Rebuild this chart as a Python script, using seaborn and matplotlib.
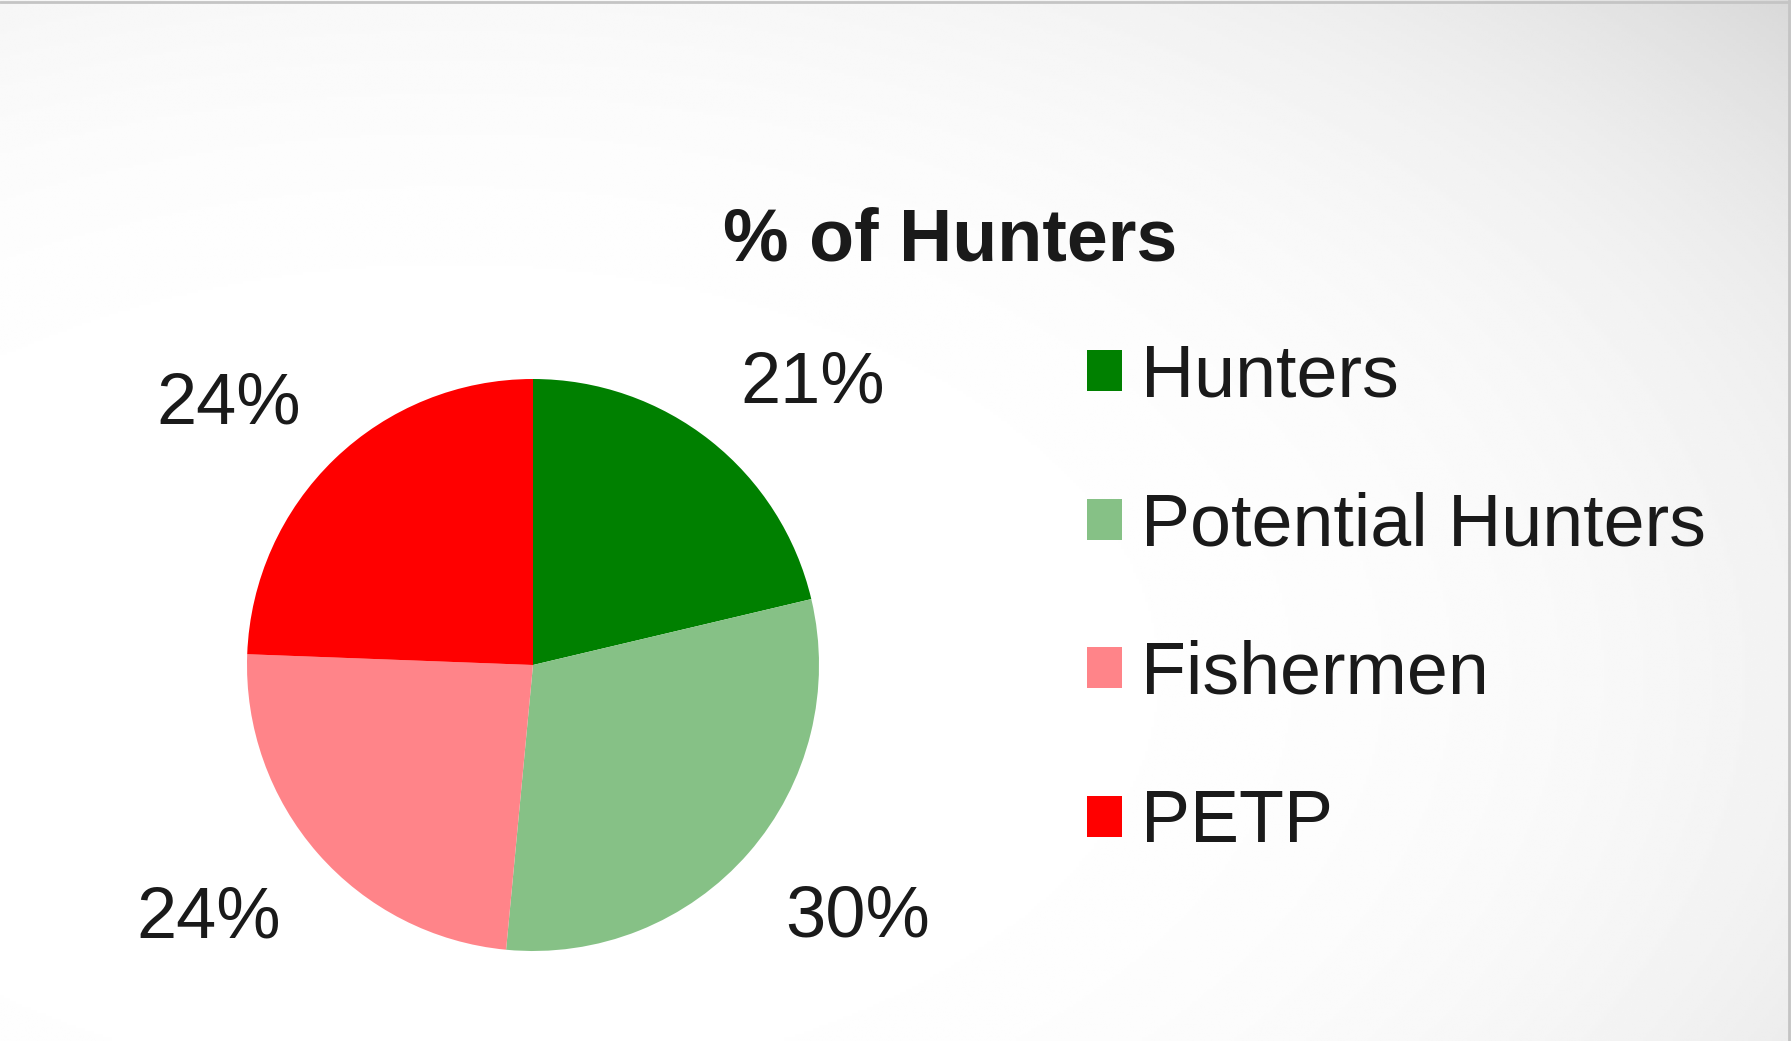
import numpy as np
import matplotlib
matplotlib.use("Agg")
import matplotlib.pyplot as plt
import seaborn as sns

# Data
groups = ["Hunters", "Potential Hunters", "Fishermen", "PETP"]
shares = [21.3, 30.2, 24.1, 24.4]
labels = ["21%", "30%", "24%", "24%"]
colors = ["#008000", "#86c186", "#ff8489", "#ff0000"]

sns.set_style("white")
plt.rcParams["font.family"] = ["Liberation Sans", "DejaVu Sans"]

W, H = 1791, 1041
fig = plt.figure(figsize=(W / 100, H / 100), dpi=100)

# Background: soft radial grey gradient, light on the left, darker top-right
bg = fig.add_axes([0, 0, 1, 1], zorder=-10)
gx = np.linspace(0, 1, 600)
gy = np.linspace(0, 1, 350)
X, Y = np.meshgrid(gx, gy)
d = np.sqrt((X - 0.25) ** 2 + (Y - 0.35) ** 2)
shade = np.clip(1.0 - 0.156 * d ** 4, 0, 1)
bg.imshow(shade, cmap="gray", vmin=0, vmax=1, aspect="auto",
          extent=[0, 1, 0, 1], origin="lower", interpolation="bilinear")
bg.plot([0, 1], [0.998, 0.998], color="#c4c4c4", lw=2)
bg.plot([0.999, 0.999], [0, 1], color="#c4c4c4", lw=2)
bg.set_xlim(0, 1)
bg.set_ylim(0, 1)
bg.axis("off")

# Pie axes placed so the pie centre sits at (533, 665) px with radius 286 px
cx, cy, r = 533, 665, 286
lim = 1.5
side = 2 * lim * r
ax = fig.add_axes([(cx - side / 2) / W, (H - cy - side / 2) / H, side / W, side / H])
ax.set_facecolor("none")

wedges, _ = ax.pie(
    shares,
    colors=colors,
    startangle=90,
    counterclock=False,
    radius=1,
    wedgeprops={"linewidth": 0},
)

# Labels: nearest corner of the text sits on the wedge's mid-angle ray
for w, lab in zip(wedges, labels):
    ang = np.deg2rad((w.theta1 + w.theta2) / 2)
    c, s = np.cos(ang), np.sin(ang)
    ax.text(1.17 * c, 1.17 * s, lab,
            ha="left" if c > 0 else "right",
            va="baseline" if s > 0 else "top",
            fontsize=52, color="#1a1a1a")

ax.set_xlim(-lim, lim)
ax.set_ylim(-lim, lim)
ax.set_aspect("equal")
ax.axis("off")

fig.text(950 / W, 1 - 241 / H, "% of Hunters", ha="center", va="center",
         fontsize=53, fontweight="bold", color="#1a1a1a")

fig.legend(
    wedges, groups,
    loc="upper left",
    bbox_to_anchor=(1087 / W, 1 - 343 / H),
    frameon=False,
    fontsize=53,
    handlelength=0.48,
    handleheight=0.48,
    handletextpad=0.25,
    labelspacing=1.08,
    borderpad=0,
    borderaxespad=0,
    labelcolor="#1a1a1a",
)

fig.savefig("out.png", dpi=100)
